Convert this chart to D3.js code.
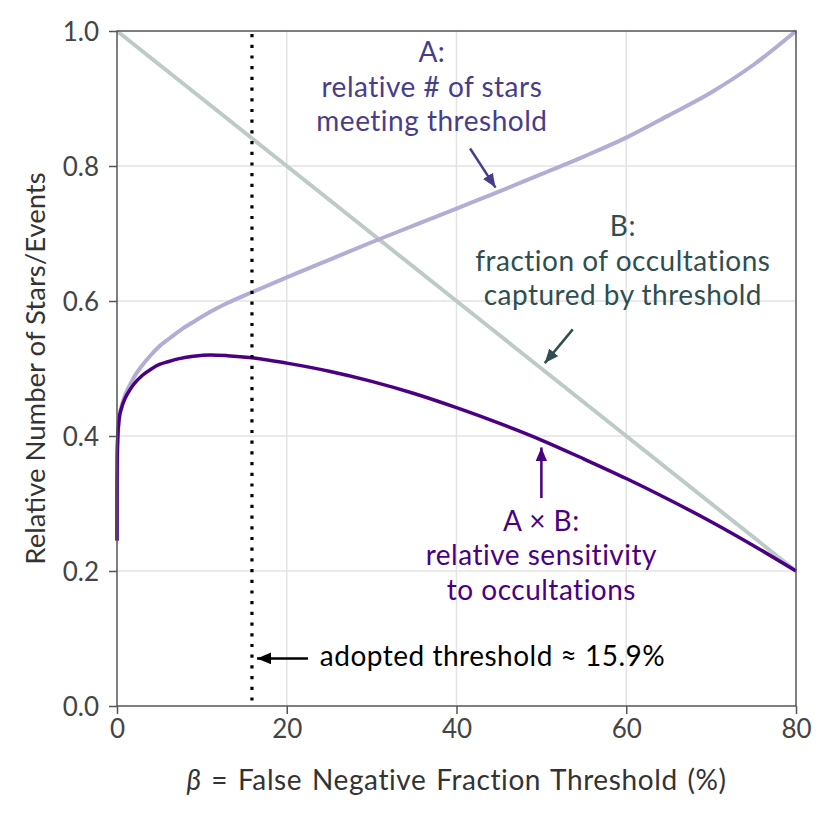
<!DOCTYPE html>
<html>
<head>
<meta charset="utf-8">
<script src="https://cdn.jsdelivr.net/npm/d3@7"></script>
<style>
  body { margin: 0; background: #fff; }
  svg { display: block; font-family: Lato, "Noto Sans", sans-serif; }
</style>
</head>
<body>
<svg id="chart" width="831" height="818"></svg>
<script>
// beta = false negative fraction threshold (%)
const betaA = [0, 0.01, 0.03, 0.1, 0.25, 0.5, 1, 1.5, 2, 3, 4, 5, 6, 7.5, 9, 11, 13,
  15.9, 20, 25, 30, 35, 40, 45, 50, 55, 60, 65, 70, 75, 80];
// A: relative number of stars meeting threshold
const starsA = [0.245, 0.33, 0.37, 0.4, 0.426, 0.442, 0.462, 0.475, 0.487, 0.505,
  0.52, 0.533, 0.543, 0.557, 0.569, 0.584, 0.597, 0.613, 0.635, 0.661, 0.687,
  0.712, 0.737, 0.762, 0.788, 0.814, 0.842, 0.875, 0.909, 0.95, 1.0];
// B: fraction of occultations captured by threshold
const betaB = [0, 20, 40, 60, 80];
const captB = [1.0, 0.8, 0.6, 0.4, 0.2];
// A x B: relative sensitivity to occultations
const sensAB = [0.245, 0.33, 0.37, 0.4, 0.425, 0.44, 0.457, 0.468, 0.477, 0.49,
  0.499, 0.506, 0.51, 0.515, 0.518, 0.52, 0.519, 0.516, 0.508, 0.496, 0.481,
  0.463, 0.442, 0.419, 0.394, 0.366, 0.337, 0.306, 0.273, 0.2375, 0.2];

const adopted = 15.9;
const xTicks = [0, 20, 40, 60, 80];
const yTicks = [0, 0.2, 0.4, 0.6, 0.8, 1.0];

const width = 831, height = 818;
const margin = { top: 31, right: 35, bottom: 112, left: 117 };

const svg = d3.select("#chart");

const x = d3.scaleLinear().domain([0, 80]).range([margin.left, width - margin.right]);
const y = d3.scaleLinear().domain([0, 1]).range([height - margin.bottom, margin.top]);

// grid
svg.append("g")
  .selectAll("line")
  .data(xTicks.slice(1, -1))
  .join("line")
  .attr("x1", d => x(d)).attr("x2", d => x(d))
  .attr("y1", y(0)).attr("y2", y(1))
  .attr("stroke", "#e3e3e3").attr("stroke-width", 1.5);

svg.append("g")
  .selectAll("line")
  .data(yTicks.slice(1, -1))
  .join("line")
  .attr("x1", x(0)).attr("x2", x(80))
  .attr("y1", d => y(d)).attr("y2", d => y(d))
  .attr("stroke", "#e3e3e3").attr("stroke-width", 1.5);

// axes
const xAxis = svg.append("g")
  .attr("transform", `translate(0,${y(0)})`)
  .call(d3.axisBottom(x).tickValues(xTicks).tickSize(8).tickPadding(6).tickFormat(d3.format("d")));

const yAxis = svg.append("g")
  .attr("transform", `translate(${x(0)},0)`)
  .call(d3.axisLeft(y).tickValues(yTicks).tickSize(8).tickPadding(10).tickFormat(d3.format(".1f")));

[xAxis, yAxis].forEach(ax => {
  ax.select(".domain").remove();
  ax.selectAll(".tick line").attr("stroke", "#555").attr("stroke-width", 1.5);
  ax.selectAll(".tick text")
    .attr("fill", "#444")
    .style("font-size", "26px")
    .style("font-family", "Lato, 'Noto Sans', sans-serif");
});
yAxis.selectAll(".tick text").attr("dy", "0.36em");

// lines
const lineA = d3.line().x((d, i) => x(betaA[i])).y(d => y(d)).curve(d3.curveMonotoneX);
const lineB = d3.line().x((d, i) => x(betaB[i])).y(d => y(d));

svg.append("path")
  .datum(captB)
  .attr("d", lineB)
  .attr("fill", "none")
  .attr("stroke", "#bdcac6")
  .attr("stroke-width", 4);

svg.append("path")
  .datum(starsA)
  .attr("d", lineA)
  .attr("fill", "none")
  .attr("stroke", "#b3acd5")
  .attr("stroke-width", 4);

svg.append("path")
  .datum(sensAB)
  .attr("d", lineA)
  .attr("fill", "none")
  .attr("stroke", "#4b0082")
  .attr("stroke-width", 3.5);

// adopted threshold
svg.append("line")
  .attr("x1", x(adopted)).attr("x2", x(adopted))
  .attr("y1", y(1) + 3).attr("y2", y(0))
  .attr("stroke", "#000")
  .attr("stroke-width", 3.2)
  .attr("stroke-dasharray", "3.2 7.5");

// frame
svg.append("rect")
  .attr("x", x(0)).attr("y", y(1))
  .attr("width", x(80) - x(0)).attr("height", y(0) - y(1))
  .attr("fill", "none")
  .attr("stroke", "#555")
  .attr("stroke-width", 1.5);

// arrow markers
const defs = svg.append("defs");
function marker(id, color) {
  defs.append("marker")
    .attr("id", id)
    .attr("viewBox", "0 0 12 10")
    .attr("refX", 12).attr("refY", 5)
    .attr("markerUnits", "userSpaceOnUse")
    .attr("markerWidth", 14).attr("markerHeight", 12)
    .attr("orient", "auto")
    .append("path")
    .attr("d", "M0,0 L12,5 L0,10 Z")
    .attr("fill", color);
}
marker("arA", "#483d8b");
marker("arB", "#2f4f4f");
marker("arAB", "#4b0082");
marker("arT", "#000");

function arrow(x1, y1, x2, y2, color, id) {
  svg.append("line")
    .attr("x1", x(x1)).attr("y1", y(y1))
    .attr("x2", x(x2)).attr("y2", y(y2))
    .attr("stroke", color).attr("stroke-width", 2.5)
    .attr("marker-end", `url(#${id})`);
}

function label(cx, cy, lines, color, anchor) {
  const t = svg.append("text")
    .attr("x", x(cx)).attr("y", y(cy))
    .attr("text-anchor", anchor || "middle")
    .attr("fill", color)
    .style("font-size", "28px")
    .style("letter-spacing", "0.5px");
  lines.forEach((s, i) => {
    t.append("tspan").attr("x", x(cx)).attr("dy", i === 0 ? 0 : 34.5).text(s);
  });
  return t;
}

label(37.1, 0.954, ["A:", "relative # of stars", "meeting threshold"], "#483d8b");
arrow(41.6, 0.826, 44.6, 0.768, "#483d8b", "arA");

label(59.6, 0.696, ["B:", "fraction of occultations", "captured by threshold"], "#2f4f4f");
arrow(53.7, 0.558, 50.4, 0.508, "#2f4f4f", "arB");

label(50.0, 0.26, ["A × B:", "relative sensitivity", "to occultations"], "#4b0082");
arrow(50.0, 0.308, 50.0, 0.383, "#4b0082", "arAB");

label(23.9, 0.06, ["adopted threshold ≈ 15.9%"], "#000", "start");
arrow(22.5, 0.0705, 16.5, 0.0705, "#000", "arT");

// axis titles
const xt = svg.append("text")
  .attr("x", (x(0) + x(80)) / 2)
  .attr("y", 790)
  .attr("text-anchor", "middle")
  .attr("fill", "#333")
  .style("font-size", "28px")
  .style("letter-spacing", "0.6px")
  .style("word-spacing", "2px");
xt.append("tspan").style("font-style", "italic").text("β");
xt.append("tspan").text(" = False Negative Fraction Threshold (%)");

svg.append("text")
  .attr("transform", `translate(45,${(y(0) + y(1)) / 2}) rotate(-90)`)
  .attr("text-anchor", "middle")
  .attr("fill", "#333")
  .style("font-size", "27.5px")
  .text("Relative Number of Stars/Events");
</script>
</body>
</html>
